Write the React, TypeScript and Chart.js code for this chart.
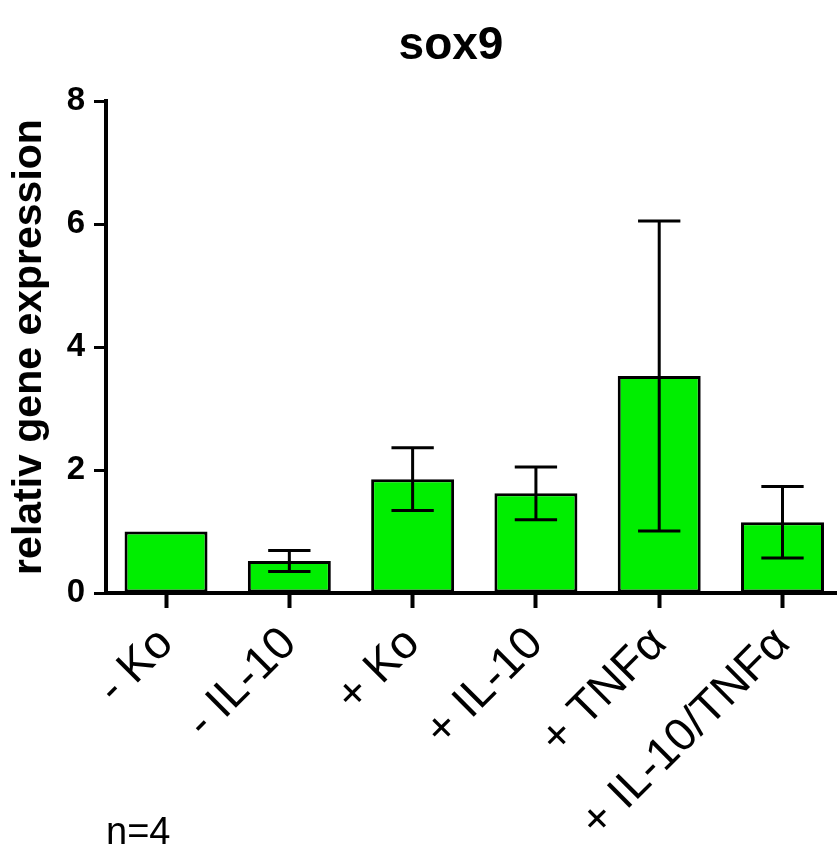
import React, { useEffect, useRef } from 'react';
import { Chart, registerables } from 'chart.js';

Chart.register(...registerables);

// ---- data ----
const categories = ['- Ko', '- IL-10', '+ Ko', '+ IL-10', '+ TNFα', '+ IL-10/TNFα'];
const means = [1.0, 0.52, 1.85, 1.62, 3.53, 1.15];
const errors = [0, 0.17, 0.51, 0.43, 2.52, 0.58];
const yTicks = [0, 2, 4, 6, 8];
const chartTitle = 'sox9';
const yAxisTitle = 'relativ gene expression';
const footnote = 'n=4';

const FONT = 'Arial, "Liberation Sans", Helvetica, sans-serif';

const errorBarPlugin = {
  id: 'errorBars',
  afterDatasetsDraw(chart: any) {
    const ctx = chart.ctx;
    const meta = chart.getDatasetMeta(0);
    const y = chart.scales.y;
    ctx.save();
    ctx.strokeStyle = '#000';
    ctx.lineWidth = 3;
    meta.data.forEach((bar: any, i: number) => {
      const e = errors[i];
      if (!e) return;
      const x = bar.x;
      const half = bar.width * 0.255;
      const top = y.getPixelForValue(means[i] + e);
      const bot = y.getPixelForValue(means[i] - e);
      ctx.beginPath();
      ctx.moveTo(x, top);
      ctx.lineTo(x, bot);
      ctx.moveTo(x - half, top);
      ctx.lineTo(x + half, top);
      ctx.moveTo(x - half, bot);
      ctx.lineTo(x + half, bot);
      ctx.stroke();
    });
    ctx.restore();
  },
};

const textPlugin = {
  id: 'extraText',
  afterDraw(chart: any) {
    const ctx = chart.ctx;
    ctx.save();
    ctx.fillStyle = '#000';
    ctx.font = `bold 46px ${FONT}`;
    ctx.textAlign = 'center';
    ctx.textBaseline = 'middle';
    ctx.fillText(chartTitle, 451, 46);
    ctx.font = `38px ${FONT}`;
    ctx.textAlign = 'left';
    ctx.textBaseline = 'alphabetic';
    ctx.fillText(footnote, 106, 844);
    ctx.restore();
  },
};

export default function App() {
  const ref = useRef<HTMLCanvasElement>(null);

  useEffect(() => {
    if (!ref.current) return;
    const chart = new Chart(ref.current, {
      type: 'bar',
      data: {
        datasets: [
          {
            data: means.map((v, i) => ({ x: i, y: v })),
            backgroundColor: '#00EE00',
            borderColor: '#000',
            borderWidth: 3,
            borderSkipped: false,
            barPercentage: 0.673,
            categoryPercentage: 1,
          },
        ],
      },
      options: {
        responsive: false,
        animation: false,
        devicePixelRatio: 1,
        layout: { padding: { top: 101, right: 0, bottom: 0, left: 0 } },
        plugins: {
          legend: { display: false },
          tooltip: { enabled: false },
          title: { display: false },
        },
        scales: {
          x: {
            type: 'linear',
            offset: false,
            bounds: 'data',
            min: -0.487,
            max: 5.442,
            afterBuildTicks: (s: any) => {
              s.ticks = categories.map((_, i) => ({ value: i }));
            },
            afterFit: (s: any) => {
              s.height = 256;
            },
            grid: {
              display: true,
              offset: false,
              drawOnChartArea: false,
              drawTicks: true,
              tickLength: 15,
              tickWidth: 4,
              tickColor: '#000',
              color: '#000',
            },
            border: { display: true, color: '#000', width: 4 },
            ticks: {
              autoSkip: false,
              maxRotation: 45,
              minRotation: 45,
              padding: 9,
              color: '#000',
              font: { family: FONT, size: 46 },
              callback: (v: any) => categories[Math.round(Number(v))],
            },
          },
          y: {
            min: 0,
            max: 8,
            afterBuildTicks: (s: any) => {
              s.ticks = yTicks.map((v) => ({ value: v }));
            },
            afterFit: (s: any) => {
              s.width = 106;
            },
            grid: {
              display: true,
              drawOnChartArea: false,
              drawTicks: true,
              tickLength: 12,
              tickWidth: 3,
              tickColor: '#000',
            },
            border: { display: true, color: '#000', width: 4 },
            ticks: {
              color: '#000',
              padding: 9,
              font: { family: FONT, size: 33, weight: 'bold' },
            },
            title: {
              display: true,
              text: yAxisTitle,
              color: '#000',
              font: { family: FONT, size: 41, weight: 'bold' },
              padding: { top: 5, bottom: 0 },
            },
          },
        },
      },
      plugins: [errorBarPlugin, textPlugin],
    } as any);
    return () => chart.destroy();
  }, []);

  return (
    <div style={{ position: 'absolute', left: 0, top: 0, width: 837, height: 849, background: '#fff' }}>
      <canvas ref={ref} width={837} height={849} />
    </div>
  );
}
